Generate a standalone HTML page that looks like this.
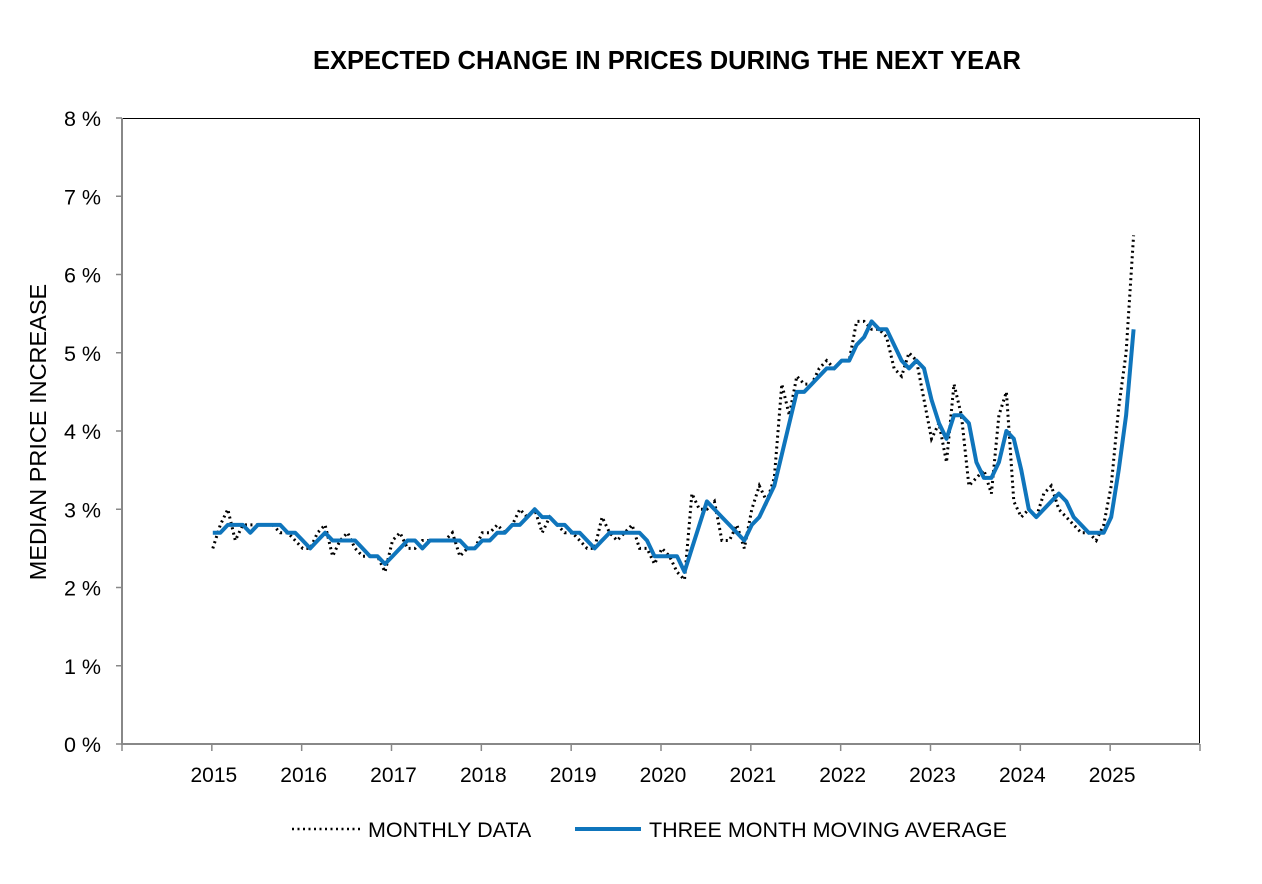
<!DOCTYPE html>
<html><head><meta charset="utf-8"><style>
body{margin:0;background:#fff;}
svg{display:block;font-family:"Liberation Sans",Arial,sans-serif;}
</style></head><body>
<svg id="chart" width="1262" height="884" viewBox="0 0 1262 884">
<text x="667" y="69" text-anchor="middle" font-size="25.5" font-weight="bold">EXPECTED CHANGE IN PRICES DURING THE NEXT YEAR</text>
<text transform="translate(46,432) rotate(-90)" text-anchor="middle" font-size="23.5">MEDIAN PRICE INCREASE</text>
<line x1="122" y1="118.5" x2="1200" y2="118.5" stroke="#000" stroke-width="1"/>
<line x1="1199.5" y1="118" x2="1199.5" y2="744" stroke="#000" stroke-width="1"/>
<g id="axes"></g>
<g id="series"></g>
<g>
<line x1="292" y1="829" x2="360" y2="829" stroke="#000" stroke-width="2.5" stroke-dasharray="2,3.5"/>
<text x="368" y="837" font-size="21.5">MONTHLY DATA</text>
<line x1="575" y1="829" x2="641" y2="829" stroke="#0F75BC" stroke-width="4"/>
<text x="649" y="837" font-size="21.5">THREE MONTH MOVING AVERAGE</text>
</g>
</svg>
<script>
const yTicks = [0,1,2,3,4,5,6,7,8];
const xYears = [2015,2016,2017,2018,2019,2020,2021,2022,2023,2024,2025];
const startYear = 2015;
const monthly = [
2.5,2.8,3.0,2.6,2.8,2.8,2.8,2.8,2.8,2.7,2.7,2.6,
2.5,2.5,2.7,2.8,2.4,2.6,2.7,2.5,2.4,2.4,2.4,2.2,
2.6,2.7,2.5,2.5,2.6,2.6,2.6,2.6,2.7,2.4,2.5,2.5,
2.7,2.7,2.8,2.7,2.8,3.0,2.9,3.0,2.7,2.9,2.8,2.7,
2.7,2.6,2.5,2.5,2.9,2.7,2.6,2.7,2.8,2.5,2.5,2.3,
2.5,2.4,2.2,2.1,3.2,3.0,3.0,3.1,2.6,2.6,2.8,2.5,
3.0,3.3,3.1,3.4,4.6,4.2,4.7,4.6,4.6,4.8,4.9,4.8,
4.9,4.9,5.4,5.4,5.3,5.3,5.2,4.8,4.7,5.0,4.9,4.4,
3.9,4.1,3.6,4.6,4.2,3.3,3.4,3.5,3.2,4.2,4.5,3.1,
2.9,3.0,2.9,3.2,3.3,3.0,2.9,2.8,2.7,2.7,2.6,2.8,
3.3,4.3,5.0,6.5];
const movingAvg = [
2.7,2.7,2.8,2.8,2.8,2.7,2.8,2.8,2.8,2.8,2.7,2.7,
2.6,2.5,2.6,2.7,2.6,2.6,2.6,2.6,2.5,2.4,2.4,2.3,
2.4,2.5,2.6,2.6,2.5,2.6,2.6,2.6,2.6,2.6,2.5,2.5,
2.6,2.6,2.7,2.7,2.8,2.8,2.9,3.0,2.9,2.9,2.8,2.8,
2.7,2.7,2.6,2.5,2.6,2.7,2.7,2.7,2.7,2.7,2.6,2.4,
2.4,2.4,2.4,2.2,2.5,2.8,3.1,3.0,2.9,2.8,2.7,2.6,
2.8,2.9,3.1,3.3,3.7,4.1,4.5,4.5,4.6,4.7,4.8,4.8,
4.9,4.9,5.1,5.2,5.4,5.3,5.3,5.1,4.9,4.8,4.9,4.8,
4.4,4.1,3.9,4.2,4.2,4.1,3.6,3.4,3.4,3.6,4.0,3.9,
3.5,3.0,2.9,3.0,3.1,3.2,3.1,2.9,2.8,2.7,2.7,2.7,
2.9,3.5,4.2,5.3];

const NS='http://www.w3.org/2000/svg';
const L=122,R=1200,T=118,B=744;
const yScale=v=>B-(v/8)*(B-T);
const xScale=yr=>L+(yr-2014)*((R-L)/12);
const xIdx=i=>xScale(startYear+i/12)+1;
function mk(tag,attrs,parent){const e=document.createElementNS(NS,tag);for(const k in attrs)e.setAttribute(k,attrs[k]);parent.appendChild(e);return e;}
const axes=document.getElementById('axes');
const series=document.getElementById('series');
let e;
e=mk('line',{x1:L,y1:T,x2:L,y2:B+1,stroke:'#888','stroke-width':2},axes);


e=mk('line',{x1:L-1,y1:B,x2:R,y2:B,stroke:'#888','stroke-width':2},axes);


yTicks.forEach(v=>{
  const y=yScale(v);
  let t=mk('line',{x1:L-6,y1:y,x2:L,y2:y,stroke:'#888','stroke-width':1.5},axes);
  
  
  let lb=mk('text',{x:101,y:y+8,'text-anchor':'end','font-size':21.5},axes);
  lb.textContent=v+' %';
  
  
});
for(let yr=2014;yr<=2026;yr++){
  const x=xScale(yr);
  let t=mk('line',{x1:x,y1:B,x2:x,y2:B+7,stroke:'#888','stroke-width':1.5},axes);
  
  
}
xYears.forEach(yr=>{
  let lb=mk('text',{x:xScale(yr)+2,y:782,'text-anchor':'middle','font-size':21},axes);
  lb.textContent=yr;
  
  
});
const ptsM=monthly.map((v,i)=>xIdx(i).toFixed(1)+','+yScale(v).toFixed(1)).join(' ');
let pm=mk('polyline',{points:ptsM,fill:'none',stroke:'#000','stroke-width':3,'stroke-dasharray':'2,3.5'},series);


const ptsA=movingAvg.map((v,i)=>xIdx(i).toFixed(1)+','+yScale(v).toFixed(1)).join(' ');
let pa=mk('polyline',{points:ptsA,fill:'none',stroke:'#0F75BC','stroke-width':4,'stroke-linejoin':'round'},series);


</script>
</body></html>
